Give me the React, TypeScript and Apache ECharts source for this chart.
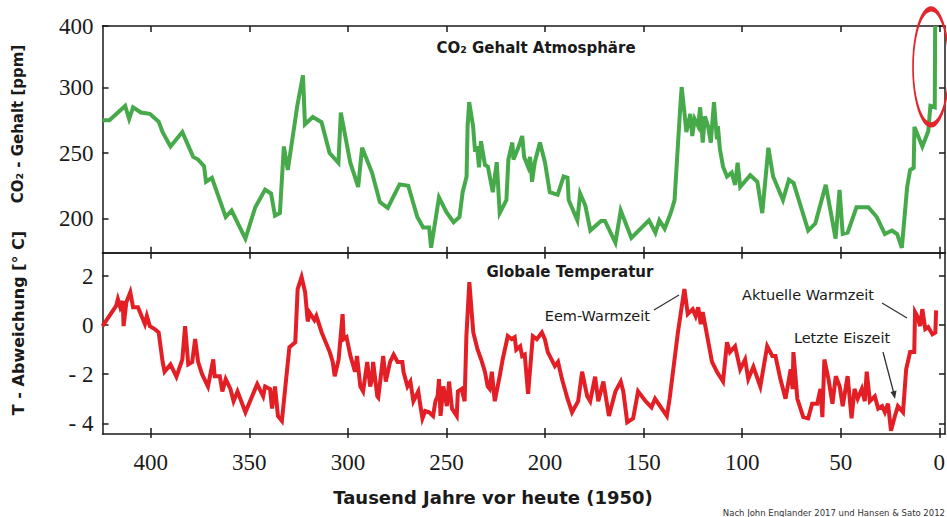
import React, { useEffect, useRef } from 'react';
import * as echarts from 'echarts';

// ---- tick labels ----
const X_TICKS = [0, 50, 100, 150, 200, 250, 300, 350, 400];
const CO2_TICKS = [200, 250, 300, 400];
const TEMP_TICKS = [-4, -2, 0, 2];

// ---- CO2 (thousand years before 1950, ppm) ----
const co2Years = [
  424.5, 421, 413, 411, 409, 405, 400.5, 396, 394, 390,
  384, 378.5, 376, 373, 372, 369, 362, 359, 352, 347,
  342, 339, 337, 334.5, 332.5, 330.5, 325.7, 322.8, 321.8, 317.8,
  313.4, 309.3, 304.8, 303.6, 298.8, 294.8, 292.8, 287.8, 283.8, 279.8,
  273.8, 269.4, 264.8, 261.8, 258.8, 257.8, 253.8, 250, 246.4, 243.4,
  241.8, 239.8, 239.3, 238.5, 236.5, 235.5, 234.5, 233.5, 232.5, 230.5,
  229, 226.5, 224.5, 223, 219.6, 218.6, 216.6, 216, 213.6, 211.6,
  210.6, 208.6, 207.6, 206.6, 205.2, 202.6, 200, 197.6, 193.6, 190.6,
  188.6, 188, 183.6, 182.2, 179.6, 177, 171.6, 169.6, 164.3, 161.6,
  156.2, 147.3, 144, 142, 139.3, 137, 135.8, 134.3, 131.7, 130.7,
  129.3, 128.3, 126.3, 125.3, 124.1, 122.3, 121.3, 120, 118.9, 117.3,
  115.9, 114.3, 112.8, 112.3, 111.3, 109.7, 107.7, 105.3, 103.6, 102.3,
  101, 95.9, 92.3, 89.8, 86.7, 84.3, 79.3, 76.3, 73.9, 66.5,
  62.9, 57.6, 52.6, 50.6, 49, 46.5, 42, 36, 31.7, 27.6,
  24, 21.4, 19, 16.3, 14.8, 13, 12.6, 8.6, 5.6, 4.5,
  2.3, 2.1,
];
const co2Ppm = [
  275, 275, 286, 276, 285, 281, 280, 274, 266, 255,
  266, 247, 245, 240, 228, 231, 201, 206, 184.5, 208.5,
  222, 219, 202, 204, 255, 237, 286, 320, 272, 277.5,
  273.6, 250, 242.5, 281, 242.6, 224, 254, 235, 212.4, 208,
  226, 225, 201, 193, 193, 177.5, 216, 204.7, 197, 201,
  220, 232, 270, 289, 270.5, 251, 255, 239, 259, 241,
  239.5, 220, 243, 204, 214, 245, 258, 245, 254, 263,
  247, 239.5, 247, 228, 243, 258, 242.6, 220, 218, 232,
  231, 214, 198.5, 219, 210, 190.7, 198, 198, 181.4, 206,
  185, 198.5, 189, 198.5, 192, 201, 206, 214, 278, 301,
  281, 266, 280, 263, 276, 270.5, 285, 258, 278, 270.5,
  258, 289, 260.5, 270.5, 253, 239.5, 232, 235, 225.6, 242.6,
  224, 233, 228, 204, 254, 232, 214, 229.5, 227, 190.7,
  196, 225.6, 184.5, 221.7, 188, 189, 208.5, 208.5, 201, 188,
  190.7, 188, 177.5, 224, 237, 238.7, 270, 255, 266.7, 286,
  285, 400,
];

// ---- Temperature anomaly (thousand years before 1950, °C) ----
const tempYears = [
  424.5, 417.6, 416.7, 415.5, 414.2, 413.8, 412.4, 410.4, 409, 406.5,
  403, 402, 400.5, 398, 396, 394, 393, 390, 387, 384,
  382.6, 381, 379, 377.5, 376, 374, 371, 368.3, 367.6, 365,
  363.7, 362, 359.6, 358, 356, 352, 346, 343, 342, 339.5,
  338.5, 337, 335.5, 333.5, 329.7, 326.7, 325.5, 323.5, 321.7, 320.4,
  319.4, 317, 316, 313.3, 309.2, 307.7, 306.7, 304.7, 302.7, 302.1,
  300.7, 298.7, 296.4, 295.4, 293.7, 292.3, 290.2, 288.7, 287.8, 287.2,
  285.1, 284.6, 282.1, 280.8, 278.6, 276.8, 274.8, 272.4, 271.8, 269.8,
  268.3, 266.8, 264.3, 263.2, 262.2, 260.8, 258.8, 256.8, 255.6, 254.5,
  253.8, 253, 251.6, 249.8, 248.7, 247.2, 244.8, 244.2, 242.3, 240.8,
  239.9, 238.4, 236.4, 234.2, 232.4, 230.5, 229.1, 228.1, 227, 226.5,
  225.5, 223, 221.5, 218.9, 217, 215.4, 214.6, 212.6, 211.6, 210.3,
  208.6, 206.2, 204.2, 201.6, 200.1, 198.6, 195, 193.4, 191.4, 188.6,
  186.3, 183.2, 181.2, 178.6, 177.1, 174.6, 173, 170.4, 167.6, 164.3,
  161.6, 160.3, 158.3, 155.3, 152.8, 149, 146, 144.2, 138.2, 136.8,
  132.6, 130.7, 129.3, 127.6, 125.1, 123.6, 122.3, 121, 120, 115.3,
  112.8, 109.7, 107.7, 106.2, 103.6, 101, 98.5, 96.9, 94.3, 90.8,
  87.3, 84.7, 83.1, 80.6, 78, 75.4, 74.4, 74, 72, 69,
  66.5, 64.5, 61.9, 60.3, 59.3, 58.3, 56.2, 54.2, 52.5, 50.5,
  49, 46.5, 44.5, 43, 41.4, 39.3, 37.8, 36.8, 35.2, 32.7,
  31, 29, 27.6, 26, 24.5, 22.5, 21, 18.4, 16.8, 14.8,
  12.7, 12.3, 11.2, 9.7, 8.6, 7.1, 5.6, 3.5, 2.0, 1.6,
];
const tempAnomaly = [
  -0.04, 0.78, 1.06, 0.73, 0.98, -0.04, 0.93, 1.34, 0.73, 0.73,
  0.04, 0.37, -0.04, -0.16, -0.3, -1.5, -1.9, -1.6, -2.1, -1.4,
  -0.04, -1.6, -1.5, -0.57, -1.5, -2.0, -2.5, -1.4, -2.08, -2.08,
  -2.7, -2.2, -2.6, -3.1, -2.7, -3.55, -2.4, -2.9, -2.5, -2.6,
  -3.4, -2.5, -3.7, -3.9, -0.9, -0.7, 1.47, 1.96, 1.34, 0.15,
  0.5, 0.2, 0.37, -0.3, -1.1, -1.5, -2.08, -1.4, 0.45, -0.57,
  -0.49, -1.26, -1.9, -1.26, -2.5, -2.7, -1.5, -2.5, -2.2, -1.5,
  -2.9, -2.95, -1.26, -2.3, -1.5, -1.2, -1.5, -1.5, -1.9, -2.5,
  -2.3, -3.1, -2.7, -3.3, -3.8, -3.5, -3.55, -3.7, -3.1, -2.9,
  -2.2, -3.7, -2.5, -3.3, -2.3, -3.4, -3.7, -2.7, -2.6, -3.1,
  -0.45, 1.75, -0.3, -1.0, -1.4, -1.9, -2.5, -2.6, -1.9, -2.3,
  -3.1, -2.08, -1.4, -0.45, -0.57, -0.49, -1.0, -0.86, -1.26, -1.2,
  -2.8, -0.45, -0.57, -0.3, -0.57, -1.1, -1.67, -1.5, -2.2, -3.0,
  -3.55, -3.1, -1.9, -2.9, -3.1, -2.1, -3.1, -2.3, -3.7, -2.7,
  -2.3, -2.7, -3.96, -3.8, -2.7, -3.1, -3.35, -3.0, -3.7, -3.0,
  -0.3, 0.73, 1.47, 0.45, 0.65, 0.37, 0.73, 0.04, 0.53, -1.5,
  -1.9, -2.3, -0.7, -1.1, -0.86, -1.8, -1.4, -2.2, -1.7, -2.5,
  -0.86, -1.26, -1.26, -2.2, -3.0, -1.8, -2.6, -1.1, -3.0, -3.75,
  -3.8, -3.2, -3.2, -2.6, -3.75, -1.4, -2.2, -3.2, -2.08, -2.5,
  -3.3, -2.08, -3.8, -2.6, -3.0, -2.6, -3.1, -1.9, -3.1, -2.9,
  -3.4, -3.3, -3.55, -3.2, -4.3, -3.7, -3.3, -3.55, -1.8, -1.1,
  -1.1, 0.53, 0.37, -0.04, 0.65, -0.16, -0.08, -0.37, -0.3, 0.6,
];

// Axis extents (the CO2 axis is compressed above 300 ppm, as in the original)
const X_MIN = -2.9;
const X_MAX = 424.5;
const CO2_BREAK = 300;
const CO2_UPPER_SCALE = 0.472;
const toAxis = (v: number) => (v <= CO2_BREAK ? v : CO2_BREAK + (v - CO2_BREAK) * CO2_UPPER_SCALE);
const fromAxis = (a: number) => (a <= CO2_BREAK ? a : CO2_BREAK + (a - CO2_BREAK) / CO2_UPPER_SCALE);
const CO2_MIN = 173.7;
const CO2_MAX = toAxis(400);
const T_MIN = -4.436;
const T_MAX = 2.95;

const GREEN = '#46a94a';
const RED = '#e41e25';
const SANS = '"DejaVu Sans", Verdana, sans-serif';
const SERIF = '"Liberation Serif", "Times New Roman", serif';
const INK = '#1a1a1a';

export default function App() {
  const ref = useRef<HTMLDivElement>(null);

  useEffect(() => {
    document.body.style.margin = '0';
    if (!ref.current) return;
    const chart = echarts.init(ref.current, null, { renderer: 'svg' });

    const co2Data = co2Years.map((y, i) => [y, toAxis(co2Ppm[i])]);
    const tData = tempYears.map((y, i) => [y, tempAnomaly[i]]);

    const axisLine = { show: true, onZero: false, lineStyle: { color: INK, width: 1.5 } };
    const tick = (vals: number[], inside = true, length = 6) => ({
      show: true, inside, length, customValues: vals,
      lineStyle: { color: INK, width: 1.5 },
    });
    const xBase = {
      type: 'value', min: X_MIN, max: X_MAX, inverse: true,
      splitLine: { show: false },
    };
    const co2Vals = CO2_TICKS.map(toAxis);

    chart.setOption({
      animation: false,
      backgroundColor: '#ffffff',
      grid: [
        { left: 102.5, right: 2, top: 26, height: 226.7, containLabel: false, outerBoundsMode: 'none' },
        { left: 102.5, right: 2, top: 252.7, height: 181.3, containLabel: false, outerBoundsMode: 'none' },
      ],
      xAxis: [
        { ...xBase, gridIndex: 0, position: 'bottom', axisLine, axisTick: tick(X_TICKS), axisLabel: { show: false } },
        { ...xBase, gridIndex: 0, position: 'top', axisLine, axisTick: tick(X_TICKS), axisLabel: { show: false } },
        {
          ...xBase, gridIndex: 1, position: 'bottom', axisLine, axisTick: tick(X_TICKS),
          axisLabel: {
            show: true, customValues: X_TICKS, margin: 17,
            fontFamily: SERIF, fontSize: 23, color: INK,
          },
        },
        { ...xBase, gridIndex: 1, position: 'top', axisLine, axisTick: tick(X_TICKS), axisLabel: { show: false } },
        { ...xBase, gridIndex: 1, position: 'bottom', axisLine: { show: false, onZero: false }, axisTick: tick(X_TICKS, false, 4), axisLabel: { show: false } },
      ],
      yAxis: [
        {
          type: 'value', gridIndex: 0, position: 'left', min: CO2_MIN, max: CO2_MAX,
          splitLine: { show: false }, axisLine, axisTick: tick(co2Vals),
          axisLabel: {
            show: true, customValues: co2Vals, margin: 9,
            fontFamily: SERIF, fontSize: 23, color: INK,
            formatter: (v: number) => String(Math.round(fromAxis(v))),
          },
        },
        {
          type: 'value', gridIndex: 0, position: 'right', min: CO2_MIN, max: CO2_MAX,
          splitLine: { show: false }, axisLine, axisTick: tick(co2Vals), axisLabel: { show: false },
        },
        {
          type: 'value', gridIndex: 1, position: 'left', min: T_MIN, max: T_MAX,
          splitLine: { show: false }, axisLine, axisTick: tick(TEMP_TICKS),
          axisLabel: {
            show: true, customValues: TEMP_TICKS, margin: 9,
            fontFamily: SERIF, fontSize: 23, color: INK,
            formatter: (v: number) => (v < 0 ? '- ' + Math.abs(v) : String(v)),
          },
        },
        {
          type: 'value', gridIndex: 1, position: 'right', min: T_MIN, max: T_MAX,
          splitLine: { show: false }, axisLine, axisTick: tick(TEMP_TICKS), axisLabel: { show: false },
        },
      ],
      series: [
        {
          type: 'line', xAxisIndex: 0, yAxisIndex: 0, data: co2Data,
          showSymbol: false, symbol: 'none',
          lineStyle: { color: GREEN, width: 4, join: 'miter', miterLimit: 4 },
          markPoint: {
            symbol: 'circle', symbolSize: [36, 116], silent: true,
            itemStyle: { color: 'rgba(0,0,0,0)', borderColor: '#e3262b', borderWidth: 3 },
            label: { show: false },
            data: [{ coord: [4.2, 315.9] }],
          },
        },
        {
          type: 'line', xAxisIndex: 2, yAxisIndex: 2, data: tData,
          showSymbol: false, symbol: 'none',
          lineStyle: { color: RED, width: 4, join: 'miter', miterLimit: 4 },
        },
      ],
      graphic: [
        {
          type: 'text', x: 18, y: 124, rotation: Math.PI / 2,
          style: { text: 'CO₂ - Gehalt [ppm]', fontFamily: SANS, fontWeight: 'bold', fontSize: 15, fill: INK, textAlign: 'center', textVerticalAlign: 'middle' },
        },
        {
          type: 'text', x: 18, y: 323, rotation: Math.PI / 2,
          style: { text: 'T - Abweichung [° C]', fontFamily: SANS, fontWeight: 'bold', fontSize: 16, fill: INK, textAlign: 'center', textVerticalAlign: 'middle' },
        },
        {
          type: 'text', x: 536, y: 48,
          style: { text: 'CO₂ Gehalt Atmosphäre', fontFamily: SANS, fontWeight: 'bold', fontSize: 15, fill: INK, textAlign: 'center', textVerticalAlign: 'middle' },
        },
        {
          type: 'text', x: 570, y: 272,
          style: { text: 'Globale Temperatur', fontFamily: SANS, fontWeight: 'bold', fontSize: 15, fill: INK, textAlign: 'center', textVerticalAlign: 'middle' },
        },
        {
          type: 'text', x: 650, y: 316,
          style: { text: 'Eem-Warmzeit', fontFamily: SANS, fontSize: 14.5, fill: INK, textAlign: 'right', textVerticalAlign: 'middle' },
        },
        { type: 'line', shape: { x1: 654, y1: 310, x2: 679, y2: 295 }, style: { stroke: '#333', lineWidth: 1.3 } },
        {
          type: 'text', x: 808, y: 295,
          style: { text: 'Aktuelle Warmzeit', fontFamily: SANS, fontSize: 14.5, fill: INK, textAlign: 'center', textVerticalAlign: 'middle' },
        },
        { type: 'line', shape: { x1: 882, y1: 303, x2: 907, y2: 318 }, style: { stroke: '#333', lineWidth: 1.3 } },
        {
          type: 'text', x: 842, y: 338,
          style: { text: 'Letzte Eiszeit', fontFamily: SANS, fontSize: 14.5, fill: INK, textAlign: 'center', textVerticalAlign: 'middle' },
        },
        { type: 'line', shape: { x1: 883, y1: 352, x2: 893.5, y2: 392 }, style: { stroke: '#333', lineWidth: 1.3 } },
        { type: 'polygon', shape: { points: [[895, 399], [896.5, 390.5], [890.5, 392]] }, style: { fill: '#333' } },
        {
          type: 'text', x: 493, y: 497,
          style: { text: 'Tausend Jahre vor heute (1950)', fontFamily: SANS, fontWeight: 'bold', fontSize: 18, fill: INK, textAlign: 'center', textVerticalAlign: 'middle' },
        },
        {
          type: 'text', x: 945, y: 513,
          style: { text: 'Nach John Englander 2017 und Hansen & Sato 2012', fontFamily: SANS, fontSize: 8.5, fill: '#333', textAlign: 'right', textVerticalAlign: 'middle' },
        },
      ],
    });

    return () => chart.dispose();
  }, []);

  return <div ref={ref} style={{ width: 947, height: 517 }} />;
}
